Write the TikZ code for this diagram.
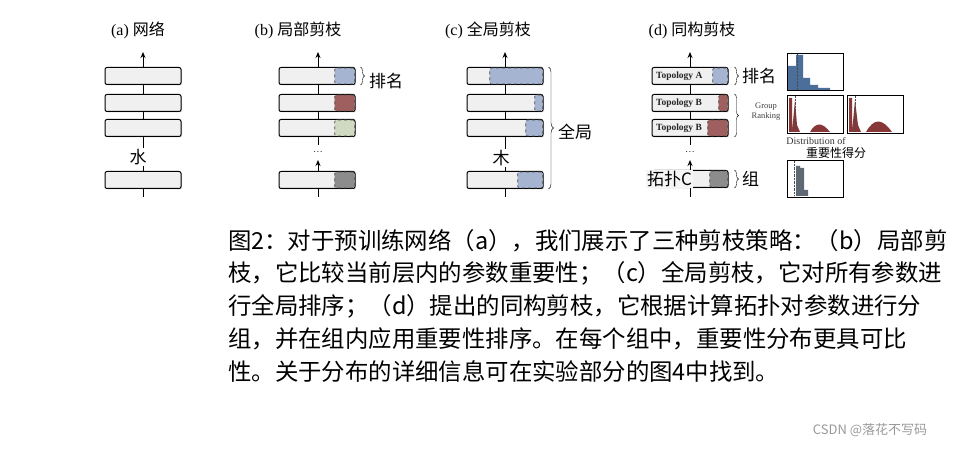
\documentclass[tikz,border=0pt]{standalone}
\usepackage{fontspec}
\setmainfont{Liberation Serif}
\newfontfamily\cjk{Noto Sans CJK SC}
\usetikzlibrary{positioning,decorations.pathreplacing,shadows,arrows.meta}
\definecolor{pblue}{RGB}{165,180,208}
\definecolor{pred}{RGB}{160,95,95}
\definecolor{pgreen}{RGB}{208,218,192}
\definecolor{pgray}{RGB}{140,140,140}
\definecolor{hblue}{RGB}{75,110,155}
\definecolor{hred}{RGB}{135,55,55}
\definecolor{hgray}{RGB}{95,105,115}
\tikzset{
  layer/.style={draw=black,line width=1pt,rounded corners=2pt,fill=gray!12,minimum width=76pt,minimum height=17pt,inner sep=0pt,drop shadow={shadow xshift=1pt,shadow yshift=-1pt,opacity=.3}},
  part/.style={draw=black!70,dashed,line width=.6pt,rounded corners=1.5pt,minimum height=16pt,inner sep=0pt,anchor=east},
  title/.style={font=\cjk\fontsize{16}{18}\selectfont},
  lab/.style={font=\cjk\fontsize{17}{19}\selectfont},
  flow/.style={line width=1pt,-{Stealth[length=6pt,width=5pt]}},
  hist/.style={draw=black,line width=.8pt,fill=white},
  captext/.style={font=\cjk\fontsize{23.4}{28}\selectfont,anchor=west,inner sep=0pt}
}
\begin{document}
\begin{tikzpicture}[x=1pt,y=-1pt]
\useasboundingbox (0,0) rectangle (967,449);
% (a)
\node[title] (ta) at (138,30) {\rmfamily(a) \cjk 网络};
\draw[line width=1pt] (143,197) -- (143,160);
\draw[flow] (143,150) -- (143,52);
\foreach \y/\n in {76/a1,103/a2,128/a3,180/a4} \node[layer] (\n) at (143,\y) {};
\node[lab,fill=white,inner sep=1pt] (wa) at (138,157) {水};
% (b)
\node[title] (tb) at (298,30) {\rmfamily(b) \cjk 局部剪枝};
\draw[line width=1pt] (318,197) -- (318,185);
\draw[flow] (318,172) -- (318,160);
\draw[line width=1pt] (318,145) -- (318,135);
\draw[flow] (318,70) -- (318,52);
\draw[line width=1pt] (318,80) -- (318,125);
\foreach \y/\n/\c in {76/b1/pblue,103/b2/pred,128/b3/pgreen,180/b4/pgray}{
  \node[layer] (\n) at (317,\y) {};
  \node[part,fill=\c,minimum width=20pt] (\n p) at ([xshift=-.5pt]\n.east) {};
}
\node[font=\bfseries] (db) at (318,152) {$\cdot\!\cdot\!\cdot$};
\draw[decorate,decoration={brace,amplitude=4pt}] ([xshift=5pt]b1.north east) -- ([xshift=5pt]b1.south east) coordinate[midway,xshift=4pt] (bb);
\node[lab,anchor=west] (rb) at ([xshift=1pt,yshift=-5pt]bb) {排名};
% (c)
\node[title] (tc) at (488,30) {\rmfamily(c) \cjk 全局剪枝};
\draw[line width=1pt] (505,197) -- (505,160);
\draw[flow] (505,150) -- (505,52);
\foreach \y/\n/\w in {76/c1/53,103/c2/8,128/c3/17,180/c4/25}{
  \node[layer] (\n) at (505,\y) {};
  \node[part,fill=pblue,minimum width=\w pt] (\n p) at ([xshift=-.5pt]\n.east) {};
}
\node[lab,fill=white,inner sep=1pt] (wc) at (501,158) {木};
\draw[decorate,decoration={brace,amplitude=5pt}] ([xshift=5pt]c1.north east) -- ([xshift=5pt]c4.south east) coordinate[midway,xshift=5pt] (cb);
\node[lab,anchor=west] (rc) at ([xshift=1pt,yshift=-4pt]cb) {全局};
% (d)
\node[title] (td) at (692,30) {\rmfamily(d) \cjk 同构剪枝};
\draw[line width=1pt] (690,197) -- (690,185);
\draw[flow] (690,172) -- (690,160);
\draw[line width=1pt] (690,145) -- (690,135);
\draw[flow] (690,70) -- (690,52);
\draw[line width=1pt] (690,80) -- (690,125);
\foreach \y/\n/\c/\w/\t in {76/d1/pblue/15/Topology A,103/d2/pred/9/Topology B,128/d3/pred/20/Topology B}{
  \node[layer] (\n) at (690,\y) {};
  \node[part,fill=\c,minimum width=\w pt] (\n p) at ([xshift=-.5pt]\n.east) {};
  \node[font=\bfseries\fontsize{9.5}{10}\selectfont,anchor=west,text=black!85] (\n t) at ([xshift=1pt]\n.west) {\t};
}
\node[layer] (d4) at (690,179) {};
\node[part,fill=pgray,minimum width=18pt] (d4p) at ([xshift=-.5pt]d4.east) {};
\node[lab,fill=gray!8,inner sep=1pt,anchor=west] (d4t) at (646,179) {拓扑C};
\node[font=\bfseries] (dd) at (690,152) {$\cdot\!\cdot\!\cdot$};
\draw[decorate,decoration={brace,amplitude=4pt}] ([xshift=6pt]d1.north east) -- ([xshift=6pt]d1.south east) coordinate[midway,xshift=4pt] (db1);
\node[lab,anchor=west] (rd) at (db1) {排名};
\draw[decorate,decoration={brace,amplitude=4pt}] ([xshift=6pt]d2.north east) -- ([xshift=6pt]d3.south east) coordinate[midway,xshift=4pt] (db2);
\node[font=\fontsize{8.5}{10}\selectfont,align=center,text=black!75] (gr) at (766,112) {Group\\Ranking};
\draw[decorate,decoration={brace,amplitude=4pt}] ([xshift=6pt]d4.north east) -- ([xshift=6pt]d4.south east) coordinate[midway,xshift=4pt] (db4);
\node[lab,anchor=west] (gd) at (db4) {组};
% histograms
\node[hist,minimum width=56pt,minimum height=37pt,inner sep=0pt] (h1) at (815,72) {};
\node[hist,minimum width=56pt,minimum height=38pt,inner sep=0pt] (h2) at (815,114) {};
\node[hist,minimum width=56pt,minimum height=38pt,inner sep=0pt] (h3) at (875,114) {};
\node[hist,minimum width=56pt,minimum height=37pt,inner sep=0pt] (h4) at (815,179) {};
\fill[hblue] (788,90) rectangle (796,66) (796,90) rectangle (803,55) (803,90) rectangle (810,78) (810,90) rectangle (818,85) (818,90) rectangle (830,88);
\fill[hred] (789,132) rectangle (792,98) (792,132) -- (795,100) -- (797,125) -- (800,132) -- cycle;
\fill[hred] (810,132) .. controls (816,122) and (822,122) .. (830,132) -- cycle;
\fill[hred] (849,132) rectangle (852,98) (852,132) -- (855,100) -- (858,125) -- (861,132) -- cycle;
\fill[hred] (866,132) .. controls (874,118) and (882,118) .. (892,132) -- cycle;
\fill[hgray] (796,196) rectangle (800,166) (800,196) rectangle (804,168) (804,196) rectangle (808,190);
\draw[densely dotted,black!70] (797,54) -- (797,90) (795,96) -- (795,132) (855,96) -- (855,132) (794,161) -- (794,196);
\node[font=\fontsize{10}{11}\selectfont,text=black!80] (dist) at (816,141) {Distribution of};
\node[font=\cjk\fontsize{12}{13}\selectfont,fill=white,inner sep=1pt] (imp) at (836,153) {重要性得分};
% caption
\node[captext] (l1) at (228,241) {图2：对于预训练网络（a），我们展示了三种剪枝策略：（b）局部剪};
\node[captext] (l2) at (228,273) {枝，它比较当前层内的参数重要性；（c）全局剪枝，它对所有参数进};
\node[captext] (l3) at (228,306) {行全局排序；（d）提出的同构剪枝，它根据计算拓扑对参数进行分};
\node[captext] (l4) at (228,339) {组，并在组内应用重要性排序。在每个组中，重要性分布更具可比};
\node[captext] (l5) at (228,372) {性。关于分布的详细信息可在实验部分的图4中找到。};
\node[font=\cjk\fontsize{13}{14}\selectfont,text=black!40] (wm) at (870,430) {CSDN @落花不写码};
\end{tikzpicture}
\end{document}
